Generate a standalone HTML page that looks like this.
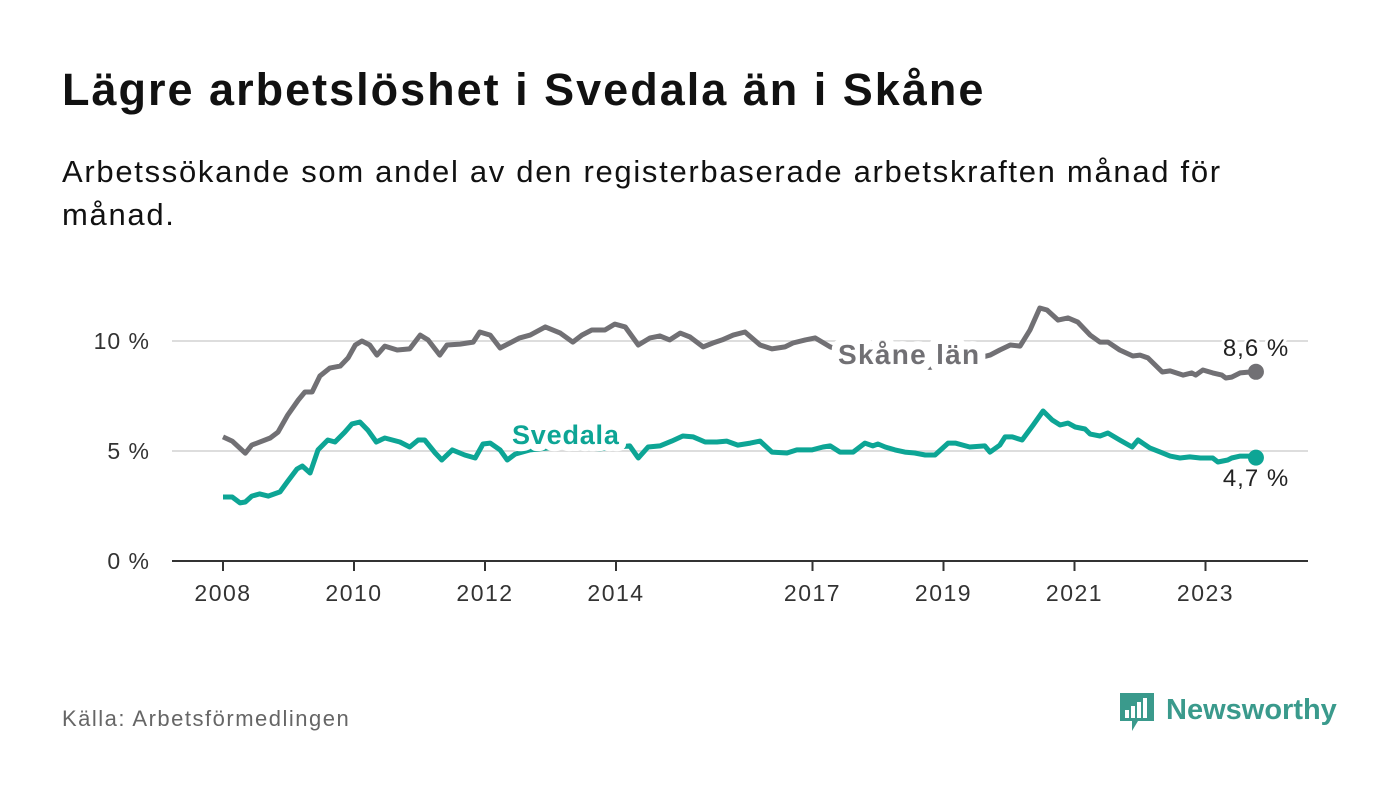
<!DOCTYPE html>
<html><head><meta charset="utf-8"><style>
body{margin:0;width:1400px;height:794px;background:#fff;font-family:"Liberation Sans",sans-serif;overflow:hidden;position:relative;color:#111}
h1{position:absolute;left:62px;top:64px;margin:0;font-size:45px;font-weight:bold;letter-spacing:2px}
.sub{position:absolute;left:62px;top:150px;width:1230px;font-size:31px;line-height:43px;margin:0;letter-spacing:1.7px}
.src{position:absolute;left:62px;top:706px;font-size:22px;color:#666;letter-spacing:1.5px}
svg{position:absolute;left:0;top:0}
</style></head><body>
<h1>Lägre arbetslöshet i Svedala än i Skåne</h1>
<p class="sub">Arbetssökande som andel av den registerbaserade arbetskraften månad för månad.</p>
<div class="src">Källa: Arbetsförmedlingen</div>
<svg id="chart" width="1400" height="794"></svg>
<svg width="1400" height="794" style="pointer-events:none">
<path d="M1120 693 h34 v28 h-16 l-6 10 v-10 h-12 z" fill="#3a9a8c"/>
<rect x="1125" y="710" width="4" height="8" fill="#fff"/><rect x="1131" y="706" width="4" height="12" fill="#fff"/><rect x="1137" y="702" width="4" height="16" fill="#fff"/><rect x="1143" y="698" width="4" height="20" fill="#fff"/>
<text x="1166" y="719" font-family="Liberation Sans, sans-serif" font-size="29" font-weight="bold" fill="#3a9a8c">Newsworthy</text>
</svg>
<script>
const yTicks=[0,5,10];
const yTickLabels=["0 %","5 %","10 %"];
const xTicks=[2008,2010,2012,2014,2017,2019,2021,2023];
const skaneDates=[2008.0,2008.14,2008.34,2008.44,2008.72,2008.84,2008.99,2009.15,2009.25,2009.36,2009.48,2009.63,2009.79,2009.91,2010.02,2010.12,2010.24,2010.35,2010.47,2010.66,2010.85,2011.01,2011.13,2011.31,2011.42,2011.62,2011.82,2011.92,2012.08,2012.23,2012.38,2012.53,2012.69,2012.92,2013.15,2013.34,2013.48,2013.63,2013.83,2013.98,2014.14,2014.34,2014.52,2014.67,2014.82,2014.98,2015.13,2015.33,2015.48,2015.62,2015.79,2015.97,2016.2,2016.38,2016.58,2016.7,2016.89,2017.04,2017.27,2017.5,2017.88,2018.34,2018.79,2019.25,2019.71,2019.86,2020.02,2020.17,2020.32,2020.47,2020.58,2020.75,2020.9,2021.05,2021.24,2021.39,2021.51,2021.69,2021.89,2022.0,2022.12,2022.34,2022.46,2022.66,2022.79,2022.85,2022.96,2023.11,2023.25,2023.31,2023.4,2023.53,2023.68,2023.77];
const skaneValues=[5.64,5.45,4.9,5.27,5.59,5.86,6.64,7.32,7.68,7.68,8.41,8.77,8.86,9.23,9.82,10.0,9.82,9.36,9.77,9.59,9.64,10.27,10.05,9.36,9.82,9.86,9.95,10.41,10.27,9.68,9.91,10.14,10.27,10.64,10.36,9.95,10.27,10.5,10.5,10.77,10.64,9.82,10.14,10.23,10.05,10.36,10.18,9.73,9.91,10.05,10.27,10.41,9.82,9.64,9.73,9.91,10.05,10.14,9.73,9.5,9.2,9.0,8.8,9.0,9.36,9.59,9.82,9.77,10.5,11.5,11.41,10.95,11.05,10.86,10.27,9.95,9.95,9.59,9.32,9.36,9.23,8.59,8.64,8.45,8.55,8.45,8.68,8.55,8.45,8.32,8.36,8.55,8.59,8.6];
const svedalaDates=[2008.0,2008.14,2008.26,2008.34,2008.44,2008.56,2008.69,2008.87,2008.98,2009.13,2009.21,2009.33,2009.45,2009.6,2009.71,2009.86,2009.97,2010.09,2010.21,2010.34,2010.47,2010.7,2010.85,2010.98,2011.08,2011.24,2011.34,2011.5,2011.69,2011.85,2011.97,2012.08,2012.23,2012.34,2012.46,2012.69,2013.15,2013.76,2014.21,2014.34,2014.49,2014.67,2014.85,2015.02,2015.18,2015.36,2015.54,2015.69,2015.86,2016.05,2016.2,2016.38,2016.61,2016.76,2016.99,2017.16,2017.27,2017.42,2017.62,2017.8,2017.92,2018.0,2018.11,2018.26,2018.41,2018.56,2018.72,2018.87,2019.07,2019.18,2019.4,2019.63,2019.71,2019.86,2019.94,2020.05,2020.2,2020.37,2020.52,2020.66,2020.78,2020.9,2021.01,2021.16,2021.24,2021.39,2021.51,2021.69,2021.88,2021.97,2022.15,2022.31,2022.46,2022.61,2022.76,2022.92,2023.11,2023.19,2023.34,2023.4,2023.53,2023.68,2023.77];
const svedalaValues=[2.91,2.91,2.64,2.68,2.95,3.05,2.95,3.14,3.59,4.18,4.32,4.0,5.05,5.5,5.41,5.86,6.23,6.32,5.95,5.41,5.59,5.41,5.18,5.5,5.5,4.91,4.59,5.05,4.82,4.68,5.32,5.36,5.05,4.59,4.86,5.05,5.2,5.1,5.23,4.68,5.18,5.23,5.45,5.68,5.64,5.41,5.41,5.45,5.27,5.36,5.45,4.95,4.91,5.05,5.05,5.18,5.23,4.95,4.95,5.36,5.23,5.32,5.18,5.05,4.95,4.91,4.82,4.82,5.36,5.36,5.18,5.23,4.95,5.27,5.64,5.64,5.5,6.18,6.82,6.41,6.18,6.27,6.09,6.0,5.77,5.68,5.82,5.5,5.18,5.5,5.14,4.95,4.77,4.68,4.73,4.68,4.68,4.5,4.59,4.68,4.77,4.77,4.7];
const NS="http://www.w3.org/2000/svg";
const svg=document.getElementById('chart');
const X=d=>223+(d-2008)*65.5;
const Y=v=>561-v*22;
function mk(t,a,p){const e=document.createElementNS(NS,t);for(const k in a)e.setAttribute(k,a[k]);(p||svg).appendChild(e);return e;}
yTicks.forEach((t,i)=>{
  if(t>0){const g=mk('line',{x1:172,x2:1308,y1:Y(t),y2:Y(t),stroke:'#ddd','stroke-width':2});
  
  }
  const l=mk('text',{x:150,y:Y(t)+8,'text-anchor':'end','font-size':23,'letter-spacing':1,fill:'#333','font-family':'Liberation Sans, sans-serif'});
  l.textContent=yTickLabels[i];
  
  
});
const base=mk('line',{x1:172,x2:1308,y1:561,y2:561,stroke:'#333','stroke-width':2});


xTicks.forEach(t=>{
  const tk=mk('line',{x1:X(t),x2:X(t),y1:561,y2:571,stroke:'#333','stroke-width':2});
  
  
  const l=mk('text',{x:X(t),y:601,'text-anchor':'middle','font-size':23,'letter-spacing':1.5,fill:'#333','font-family':'Liberation Sans, sans-serif'});
  l.textContent=t;
  
  
});
function line(dates,vals,color,name){
  const d=dates.map((x,i)=>(i?'L':'M')+X(x).toFixed(1)+' '+Y(vals[i]).toFixed(1)).join(' ');
  const p=mk('path',{d:d,fill:'none',stroke:color,'stroke-width':5,'stroke-linejoin':'round'});
  
  
  const n=dates.length-1;
  const c=mk('circle',{cx:X(dates[n]),cy:Y(vals[n]),r:8,fill:color});
  
  
}
line(skaneDates,skaneValues,'#717074','skane-line');
line(svedalaDates,svedalaValues,'#0da595','svedala-line');
function lab(x,y,txt,color,bold,name,anchor,size,ls,halo){
  const t=mk('text',{x:x,y:y,'text-anchor':anchor||'start','font-size':size,'letter-spacing':ls,'font-weight':bold?'bold':'normal',fill:color,stroke:'#fff','stroke-width':halo,'paint-order':'stroke','stroke-linejoin':'round','font-family':'Liberation Sans, sans-serif'});
  t.textContent=txt;
  
  
}
lab(838,364,'Skåne län','#717074',true,'skane-label','start',28,1.3,16);
lab(512,444,'Svedala','#0da595',true,'svedala-label','start',27,0.8,14);
lab(1256,356,'8,6 %','#222',false,'skane-end-value','middle',24,1,6);
lab(1256,486,'4,7 %','#222',false,'svedala-end-value','middle',24,1,6);
</script>
</body></html>
